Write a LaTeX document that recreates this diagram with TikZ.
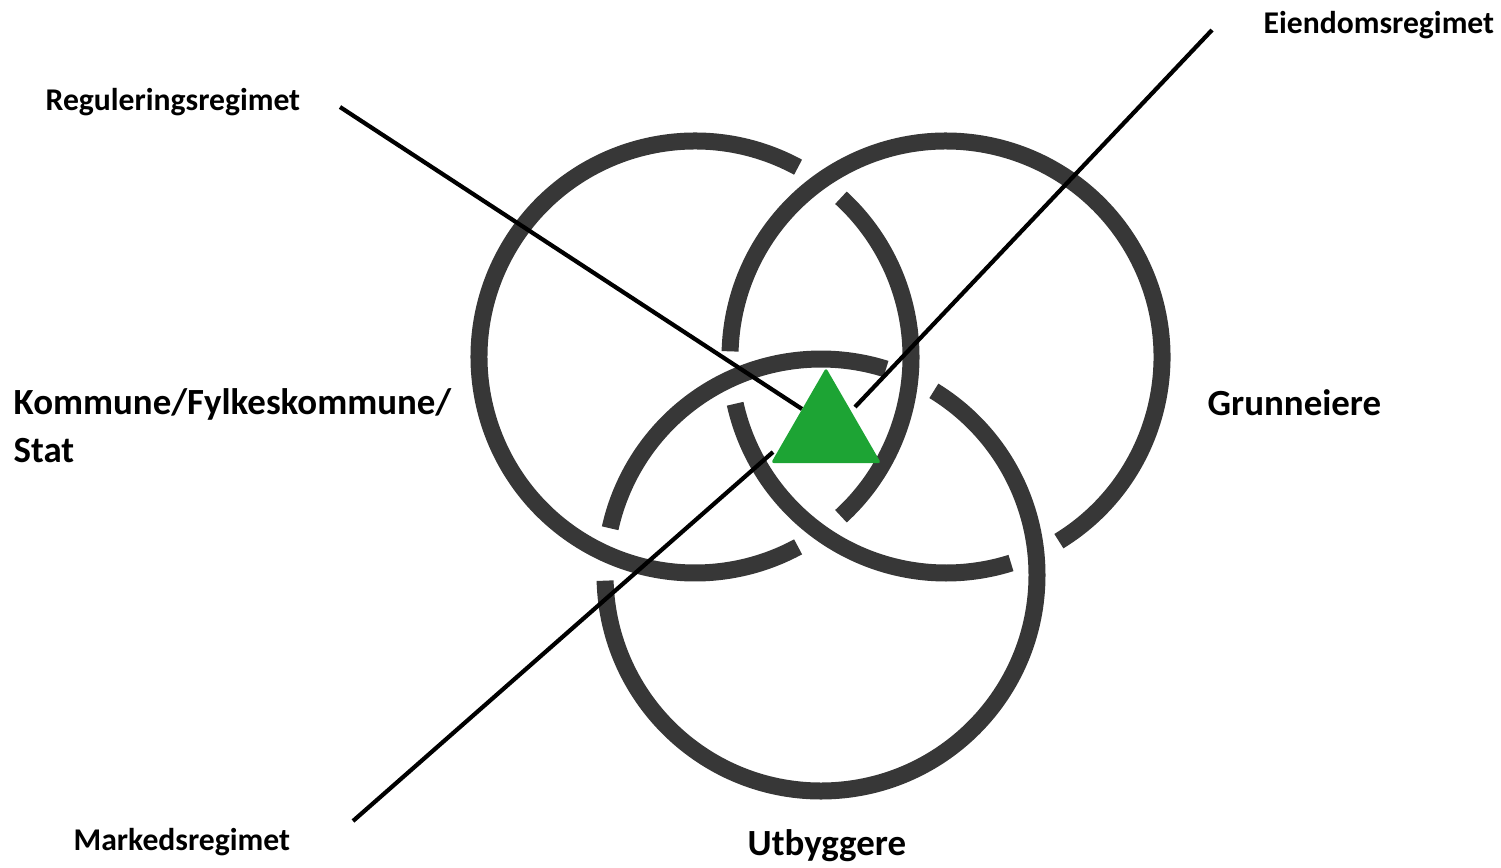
\documentclass[tikz,border=0pt]{standalone}
\usepackage{fontspec}
\setmainfont{Carlito}
\usetikzlibrary{shapes.geometric}
\definecolor{ringgrey}{RGB}{55,55,55}
\definecolor{trigreen}{RGB}{29,164,52}
\tikzset{
  ring/.style   ={draw=ringgrey, line width=1.7mm},
  regline/.style={draw=black, line width=1.2pt},
  lbl/.style    ={font=\fontsize{9}{10}\selectfont\bfseries, inner sep=0pt, anchor=base west},
  actor/.style  ={font=\fontsize{10.5}{13.4}\selectfont\bfseries, inner sep=0pt, anchor=base west, align=left},
  tri/.style    ={regular polygon, regular polygon sides=3, minimum size=12.7mm, inner sep=0pt, outer sep=0pt, fill=trigreen, rounded corners=0.8pt},
}

\begin{document}
\begin{tikzpicture}[x=0.1mm, y=0.1mm]
  \useasboundingbox (0,0) rectangle (1501,867);
  % ring centres
  \coordinate (L) at (695,510);
  \coordinate (R) at (946,510);
  \coordinate (B) at (821,292);
  % rings, broken where they pass under
  \foreach \c/\a/\b in {L/61.5/298.5, L/-47.5/47.5, R/-58.5/178.5, R/192.5/287.5, B/72.5/167.5, B/181.5/418.5}
    \draw[ring] (\c) ++(\a:216) arc[start angle=\a, end angle=\b, radius=216];

  % regime lines
  \coordinate (reg-start) at (340,760);
  \coordinate (reg-end)   at (802,458);
  \coordinate (eie-start) at (1212,837);
  \coordinate (eie-end)   at (855,460);
  \coordinate (mar-start) at (353,46);
  \coordinate (mar-end)   at (773,415);
  \draw[regline] (reg-start) -- (reg-end);
  \draw[regline] (eie-start) -- (eie-end);
  \draw[regline] (mar-start) -- (mar-end);

  \node[tri] (core) at (826,435.7) {};

  \node[lbl] (reg) at (45,757)  {Reguleringsregimet};
  \node[lbl] (eie) at (1263,834) {Eiendomsregimet};
  \node[lbl] (mar) at (73,17)   {Markedsregimet};
  \node[actor] (kom) at (13,405)   {Kommune/Fylkeskommune/\\Stat};
  \node[actor] (gru) at (1207,452) {Grunneiere};
  \node[actor] (utb) at (747,12)   {Utbyggere};
\end{tikzpicture}
\end{document}
